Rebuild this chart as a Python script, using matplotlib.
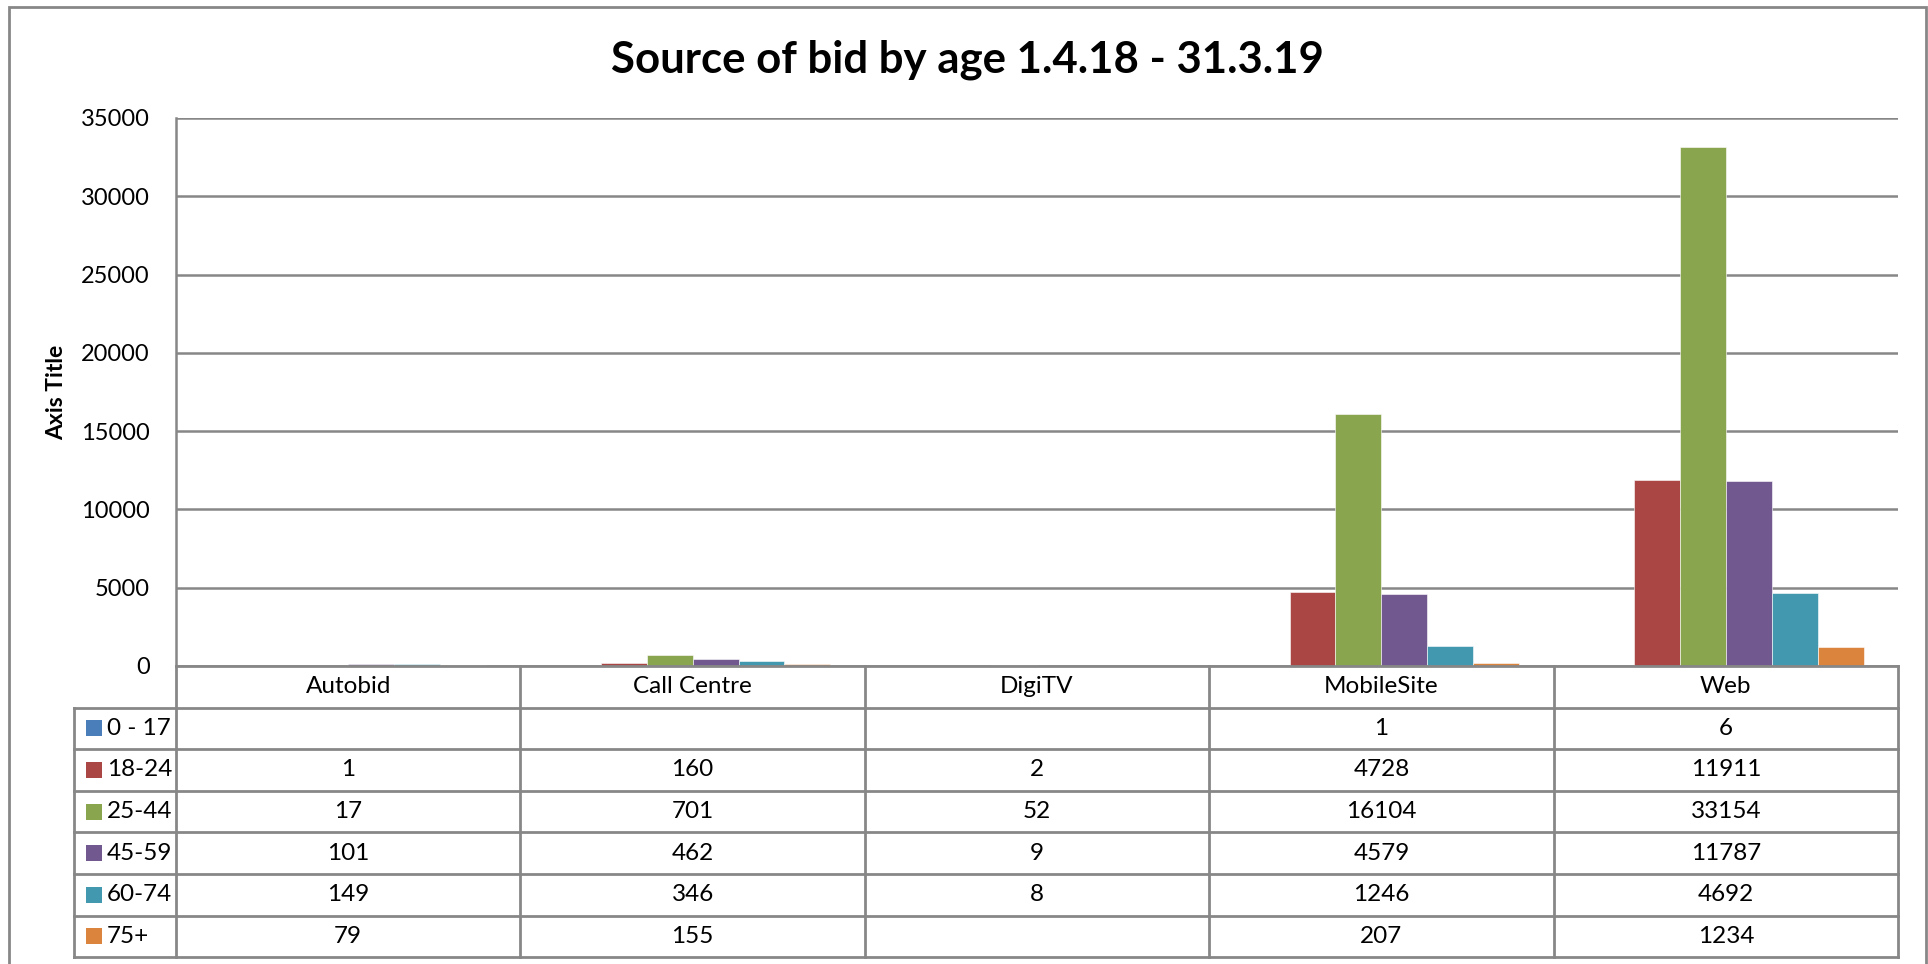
import matplotlib

matplotlib.use("Agg")
import matplotlib.pyplot as plt
from matplotlib.lines import Line2D
from matplotlib.patches import Rectangle
from matplotlib.transforms import blended_transform_factory
import numpy as np

# data
CATEGORIES = ["Autobid", "Call Centre", "DigiTV", "MobileSite", "Web"]
AGE_GROUPS = ["0 - 17", "18-24", "25-44", "45-59", "60-74", "75+"]
AGE_0_17 = [None, None, None, 1, 6]
AGE_18_24 = [1, 160, 2, 4728, 11911]
AGE_25_44 = [17, 701, 52, 16104, 33154]
AGE_45_59 = [101, 462, 9, 4579, 11787]
AGE_60_74 = [149, 346, 8, 1246, 4692]
AGE_75_PLUS = [79, 155, None, 207, 1234]
Y_TICKS = [0, 5000, 10000, 15000, 20000, 25000, 30000, 35000]

SERIES = [AGE_0_17, AGE_18_24, AGE_25_44, AGE_45_59, AGE_60_74, AGE_75_PLUS]
COLORS = ["#4A7EBB", "#AA4643", "#89A54E", "#71588F", "#4198AF", "#DB843D"]
GRID_COLOR = "#878787"
FONT = ["Lato", "DejaVu Sans"]
TEXT_SIZE = 17.5

W, H = 1928, 964
AX_LEFT, AX_RIGHT, AX_TOP, AX_BOTTOM = 176, 1898, 118, 666
TABLE_LEFT = 74
ROW_H = 41.6

plt.rcParams["font.family"] = FONT


def fx(px):
    return px / W


def fy(py):
    return 1 - py / H


fig = plt.figure(figsize=(W / 100, H / 100), dpi=100)
ax = fig.add_axes([fx(AX_LEFT), fy(AX_BOTTOM), fx(AX_RIGHT - AX_LEFT), (AX_BOTTOM - AX_TOP) / H])

x = np.arange(len(CATEGORIES))
n = len(SERIES)
bar_w = 0.8 / n
for i, (label, values, color) in enumerate(zip(AGE_GROUPS, SERIES, COLORS)):
    heights = [0 if v is None else v for v in values]
    ax.bar(x + (i - (n - 1) / 2) * bar_w, heights, width=bar_w, color=color,
           edgecolor="white", linewidth=0.4, label=label, zorder=3)

ax.set_xlim(-0.5, len(CATEGORIES) - 0.5)
ax.set_ylim(0, 35000)
ax.set_yticks(Y_TICKS)
ax.set_yticklabels([str(t) for t in Y_TICKS])
ax.set_xticks([])
ax.tick_params(axis="y", length=0, pad=19, labelsize=17, colors="black")
ax.grid(True, axis="y", color=GRID_COLOR, linewidth=1.8, zorder=0)
ax.set_axisbelow(True)
for side in ("top", "right", "bottom"):
    ax.spines[side].set_visible(False)
ax.spines["left"].set_color(GRID_COLOR)
ax.spines["left"].set_linewidth(1.8)

fig.text(fx(57), fy((AX_TOP + AX_BOTTOM) / 2), "Axis Title", rotation=90,
         fontsize=16.5, fontweight="bold", ha="center", va="center")
fig.text(fx(967), fy(60), "Source of bid by age 1.4.18 - 31.3.19",
         fontsize=31.5, fontweight="bold", ha="center", va="center")

# data table below the axes
trans = blended_transform_factory(ax.transData, fig.transFigure)
line_kw = dict(color=GRID_COLOR, linewidth=2.0)
table_bottom = AX_BOTTOM + ROW_H * (n + 1)

# horizontal lines
for r in range(n + 2):
    y = AX_BOTTOM + r * ROW_H
    x0 = AX_LEFT if r == 0 else TABLE_LEFT
    fig.add_artist(Line2D([fx(x0), fx(AX_RIGHT)], [fy(y), fy(y)], **line_kw))
# vertical lines
fig.add_artist(Line2D([fx(TABLE_LEFT), fx(TABLE_LEFT)], [fy(AX_BOTTOM + ROW_H), fy(table_bottom)], **line_kw))
for c in range(len(CATEGORIES) + 1):
    fig.add_artist(Line2D([c - 0.5, c - 0.5], [fy(AX_BOTTOM), fy(table_bottom)],
                          transform=trans, **line_kw))

# header row
for c, name in enumerate(CATEGORIES):
    fig.text(c, fy(AX_BOTTOM + ROW_H / 2), name, transform=trans,
             fontsize=TEXT_SIZE, ha="center", va="center")

# series rows
for r, (label, values, color) in enumerate(zip(AGE_GROUPS, SERIES, COLORS)):
    yc = AX_BOTTOM + ROW_H * (r + 1.5)
    fig.add_artist(Rectangle((fx(86), fy(yc + 8)), fx(16), 16 / H, facecolor=color,
                             edgecolor="none", transform=fig.transFigure))
    fig.text(fx(107), fy(yc), label, fontsize=TEXT_SIZE, ha="left", va="center")
    for c, v in enumerate(values):
        if v is not None:
            fig.text(c, fy(yc), str(v), transform=trans, fontsize=TEXT_SIZE,
                     ha="center", va="center")

# chart border
fig.add_artist(Rectangle((fx(9), fy(H + 5)), fx(1917), (H - 2) / H, facecolor="none",
                         edgecolor=GRID_COLOR, linewidth=2, transform=fig.transFigure))

fig.savefig("out.png", dpi=100, facecolor="white")
